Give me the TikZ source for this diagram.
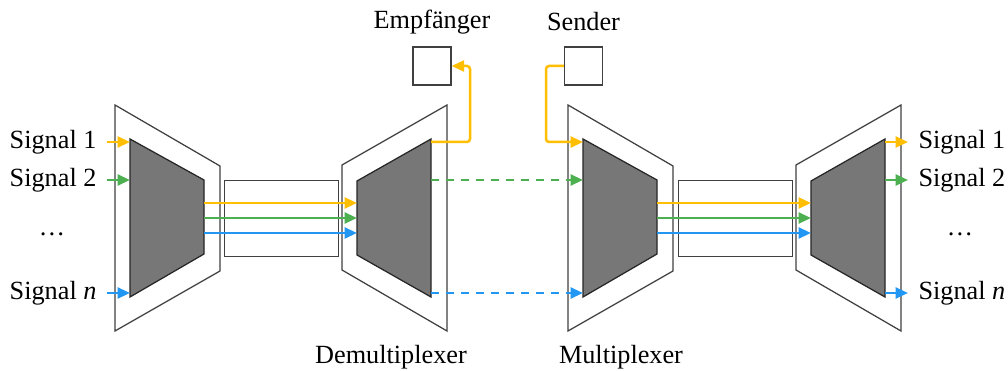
\documentclass[tikz,border=0pt]{standalone}
\usepackage{fontspec}
\setmainfont{Liberation Serif}
\usetikzlibrary{arrows.meta}
\definecolor{cyel}{HTML}{FFBE00}
\definecolor{cgrn}{HTML}{4CAF50}
\definecolor{cblu}{HTML}{2196F3}
\definecolor{cfill}{HTML}{777777}
\tikzset{
  outer/.style={draw=black!75,line width=0.5pt,fill=white},
  inner/.style={draw=black!85,line width=0.5pt,fill=cfill},
  framebox/.style={draw=black!75,line width=0.5pt,fill=white},
  sig/.style={line width=1pt,-{Triangle[length=5pt,width=4.4pt]}},
  lbl/.style={font=\fontsize{10.5}{12.5}\selectfont,inner sep=0pt},
}
\begin{document}
\begin{tikzpicture}[x=0.4pt,y=-0.4pt]
\useasboundingbox (0,0) rectangle (1008,371);
% --- Multiplexer 1
\draw[outer] (115,105) -- (220,166) -- (220,271) -- (115,331) -- cycle;
\draw[inner] (130,139) -- (204,180) -- (204,254) -- (130,297) -- cycle;
\coordinate (m1i) at (130,0);
\coordinate (m1o) at (204,0);
% --- box 1
\node[framebox,minimum width=45.6pt,minimum height=30.4pt,inner sep=0pt,anchor=north west] (b1) at (224,180) {};
% --- Demultiplexer 1
\draw[outer] (342,165) -- (447,105) -- (447,331) -- (342,270) -- cycle;
\draw[inner] (357,181) -- (431,139) -- (431,297) -- (357,255) -- cycle;
\coordinate (d1i) at (357,0);
\coordinate (d1o) at (431,0);
% --- Multiplexer 2
\draw[outer] (568,105) -- (673,166) -- (673,271) -- (568,331) -- cycle;
\draw[inner] (583,139) -- (657,180) -- (657,254) -- (583,297) -- cycle;
\coordinate (m2i) at (583,0);
\coordinate (m2o) at (657,0);
% --- box 2
\node[framebox,minimum width=45.6pt,minimum height=30.4pt,inner sep=0pt,anchor=north west] (b2) at (678,180) {};
% --- Demultiplexer 2
\draw[outer] (796,165) -- (901,105) -- (901,331) -- (796,270) -- cycle;
\draw[inner] (811,181) -- (885,139) -- (885,297) -- (811,255) -- cycle;
\coordinate (d2i) at (811,0);
\coordinate (d2o) at (885,0);
% --- Empfaenger / Sender
\node[framebox,minimum size=15.2pt,inner sep=0pt] (emp) at (432,66) {};
\node[framebox,minimum size=15.2pt,inner sep=0pt] (sen) at (583.5,66) {};
\node[lbl] (empl) at (432,22) {Empfänger};
\node[lbl] (senl) at (583.5,22) {Sender};
\node[lbl] (dml) at (391,357) {Demultiplexer};
\node[lbl] (mxl) at (621,357) {Multiplexer};
% --- left signals
\node[lbl,anchor=east] (l1) at (97,142) {Signal 1};
\node[lbl,anchor=east] (l2) at (97,180) {Signal 2};
\node[lbl] (ld) at (52,234) {\dots};
\node[lbl,anchor=east] (ln) at (97,293) {Signal \textit{n}};
\coordinate (y1) at (0,142);
\coordinate (y2) at (0,180);
\coordinate (yn) at (0,293);
\coordinate (ya) at (0,203);
\coordinate (yb) at (0,218);
\coordinate (yc) at (0,233);
\coordinate (la) at (107,0);
\draw[sig,cyel] (la |- y1) -- (m1i |- y1);
\draw[sig,cgrn] (la |- y2) -- (m1i |- y2);
\draw[sig,cblu] (la |- yn) -- (m1i |- yn);
% --- mux1 -> demux1
\draw[sig,cyel] (m1o |- ya) -- (d1i |- ya);
\draw[sig,cgrn] (m1o |- yb) -- (d1i |- yb);
\draw[sig,cblu] (m1o |- yc) -- (d1i |- yc);
% --- demux1 -> Empfaenger
\coordinate (c1) at (470,0);
\draw[sig,cyel,rounded corners=1.2pt] (d1o |- y1) -- (c1 |- y1) -- (c1 |- emp.east) -- (emp.east);
% --- dashed links
\draw[sig,cgrn,dashed] (d1o |- y2) -- (m2i |- y2);
\draw[sig,cblu,dashed] (d1o |- yn) -- (m2i |- yn);
% --- Sender -> mux2
\coordinate (c2) at (546,0);
\draw[sig,cyel,rounded corners=1.2pt] (sen.west) -- (c2 |- sen.west) -- (c2 |- y1) -- (m2i |- y1);
% --- mux2 -> demux2
\draw[sig,cyel] (m2o |- ya) -- (d2i |- ya);
\draw[sig,cgrn] (m2o |- yb) -- (d2i |- yb);
\draw[sig,cblu] (m2o |- yc) -- (d2i |- yc);
% --- right signals
\node[lbl,anchor=west] (r1) at (918,142) {Signal 1};
\node[lbl,anchor=west] (r2) at (918,180) {Signal 2};
\node[lbl] (rd) at (960,234) {\dots};
\node[lbl,anchor=west] (rn) at (918,293) {Signal \textit{n}};
\coordinate (ra) at (908,0);
\draw[sig,cyel] (d2o |- y1) -- (ra |- y1);
\draw[sig,cgrn] (d2o |- y2) -- (ra |- y2);
\draw[sig,cblu] (d2o |- yn) -- (ra |- yn);
\end{tikzpicture}
\end{document}
